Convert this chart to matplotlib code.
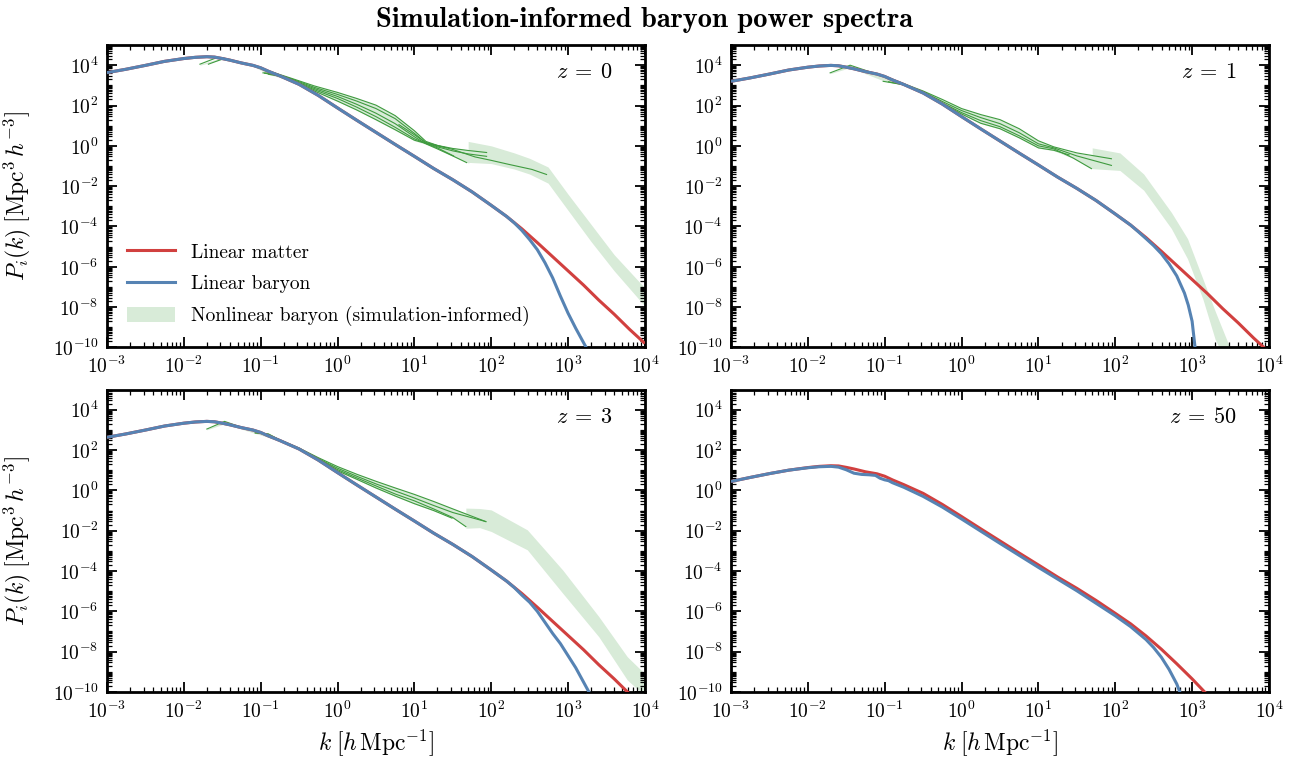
import numpy as np
import matplotlib
matplotlib.use("Agg")
import matplotlib.pyplot as plt
from matplotlib.patches import Patch
from matplotlib.lines import Line2D
from matplotlib.ticker import FixedLocator, LogLocator, NullFormatter, LogFormatterSciNotation

plt.rcParams.update({
    "font.family": "serif",
    "font.serif": ["cmr10"],
    "mathtext.fontset": "cm",
    "axes.formatter.use_mathtext": True,
})

# ---------------- data (log10 k, log10 P) ----------------
K_LIN = [-3.0, -2.75, -2.5, -2.25, -2.0, -1.85, -1.7, -1.6, -1.5, -1.4, -1.25, -1.1, -1.0, -0.9,
         -0.75, -0.5, -0.25, 0.0, 0.25, 0.5, 0.75, 1.0, 1.25, 1.5, 1.75, 2.0, 2.2, 2.4, 2.6, 2.8,
         3.0, 3.2, 3.4, 3.6, 3.8, 4.0]

PM_Z0 = [3.63, 3.80, 3.99, 4.19, 4.33, 4.39, 4.42, 4.40, 4.33, 4.25, 4.11, 3.99, 3.87, 3.70, 3.47,
         3.05, 2.50, 1.88, 1.27, 0.67, 0.07, -0.52, -1.12, -1.68, -2.28, -2.95, -3.50, -4.12, -4.80,
         -5.50, -6.20, -6.90, -7.65, -8.35, -9.10, -9.80]
PM_Z1 = [3.20, 3.37, 3.56, 3.76, 3.90, 3.96, 3.99, 3.97, 3.90, 3.82, 3.68, 3.56, 3.44, 3.27, 3.04,
         2.62, 2.07, 1.45, 0.84, 0.24, -0.36, -0.95, -1.55, -2.11, -2.71, -3.38, -3.93, -4.55, -5.23,
         -5.93, -6.63, -7.33, -8.08, -8.78, -9.53, -10.23]
PM_Z3 = [2.63, 2.80, 2.99, 3.19, 3.33, 3.39, 3.42, 3.40, 3.33, 3.25, 3.11, 2.99, 2.87, 2.70, 2.47,
         2.05, 1.50, 0.88, 0.27, -0.33, -0.93, -1.52, -2.12, -2.68, -3.28, -3.95, -4.50, -5.12, -5.80,
         -6.50, -7.20, -7.90, -8.65, -9.35, -10.10, -10.80]
K_M50 = [-3.0, -2.75, -2.5, -2.25, -2.0, -1.85, -1.7, -1.6, -1.5, -1.4, -1.25, -1.1, -1.0, -0.9,
         -0.75, -0.5, -0.25, 0.0, 0.25, 0.5, 0.75, 1.0, 1.25, 1.5, 1.75, 2.0, 2.2, 2.4, 2.6, 2.8,
         3.0, 3.2]
PM_Z50 = [0.44, 0.64, 0.83, 1.00, 1.13, 1.19, 1.22, 1.21, 1.14, 1.06, 0.92, 0.82, 0.70, 0.52, 0.28,
          -0.15, -0.70, -1.30, -1.91, -2.51, -3.11, -3.70, -4.30, -4.86, -5.46, -6.10, -6.62, -7.22,
          -7.88, -8.60, -9.35, -10.15]

K_B0 = [-3.0, -2.75, -2.5, -2.25, -2.0, -1.85, -1.7, -1.6, -1.5, -1.4, -1.25, -1.1, -1.0, -0.9,
        -0.75, -0.5, -0.25, 0.0, 0.25, 0.5, 0.75, 1.0, 1.25, 1.5, 1.75, 2.0, 2.2,
        2.3, 2.4, 2.5, 2.6, 2.7, 2.8, 2.9, 3.0, 3.1, 3.2, 3.3]
PB_Z0 = [3.63, 3.80, 3.99, 4.19, 4.33, 4.39, 4.42, 4.40, 4.33, 4.25, 4.11, 3.99, 3.87, 3.70, 3.47,
         3.05, 2.50, 1.88, 1.27, 0.67, 0.07, -0.52, -1.12, -1.68, -2.28, -2.95, -3.50,
         -3.82, -4.20, -4.65, -5.15, -5.80, -6.55, -7.45, -8.30, -9.05, -9.75, -10.45]
K_B1 = [-3.0, -2.75, -2.5, -2.25, -2.0, -1.85, -1.7, -1.6, -1.5, -1.4, -1.25, -1.1, -1.0, -0.9,
        -0.75, -0.5, -0.25, 0.0, 0.25, 0.5, 0.75, 1.0, 1.25, 1.5, 1.75, 2.0, 2.2,
        2.3, 2.4, 2.5, 2.6, 2.7, 2.8, 2.9, 2.95, 3.0, 3.05]
PB_Z1 = [3.20, 3.37, 3.56, 3.76, 3.90, 3.96, 3.99, 3.97, 3.90, 3.82, 3.68, 3.56, 3.44, 3.27, 3.04,
         2.62, 2.07, 1.45, 0.84, 0.24, -0.36, -0.95, -1.55, -2.11, -2.71, -3.38, -3.93,
         -4.26, -4.60, -4.95, -5.35, -5.85, -6.45, -7.30, -7.90, -8.70, -10.40]
K_B3 = [-3.0, -2.75, -2.5, -2.25, -2.0, -1.85, -1.7, -1.6, -1.5, -1.4, -1.25, -1.1, -1.0, -0.9,
        -0.75, -0.5, -0.25, 0.0, 0.25, 0.5, 0.75, 1.0, 1.25, 1.5, 1.75, 2.0, 2.2,
        2.3, 2.4, 2.5, 2.6, 2.7, 2.8, 2.9, 3.0, 3.1, 3.2, 3.3]
PB_Z3 = [2.63, 2.80, 2.99, 3.19, 3.33, 3.39, 3.42, 3.40, 3.33, 3.25, 3.11, 2.99, 2.87, 2.70, 2.47,
         2.05, 1.50, 0.88, 0.27, -0.33, -0.93, -1.52, -2.12, -2.68, -3.28, -3.95, -4.50,
         -4.82, -5.20, -5.55, -6.00, -6.55, -7.10, -7.60, -8.20, -8.80, -9.50, -10.20]
K_B50 = [-3.0, -2.75, -2.5, -2.25, -2.0, -1.85, -1.7, -1.6, -1.5, -1.4, -1.3, -1.2, -1.12, -1.06,
         -1.0, -0.95, -0.9, -0.75, -0.5, -0.25, 0.0, 0.5, 1.0, 1.5, 2.0, 2.2, 2.4, 2.5, 2.6, 2.7,
         2.8, 2.87]
PB_Z50 = [0.44, 0.64, 0.83, 1.00, 1.12, 1.17, 1.19, 1.15, 1.02, 0.85, 0.79, 0.77, 0.74, 0.60,
          0.52, 0.48, 0.38, 0.15, -0.30, -0.83, -1.42, -2.63, -3.82, -4.98, -6.22, -6.76, -7.40,
          -7.80, -8.28, -8.88, -9.60, -10.30]

# simulation curves (thin green), z = 0
G0_A_K = [-1.79, -1.6, -1.5, -1.25, -1.1, -0.9, -0.6, -0.3, 0.0, 0.25, 0.5, 0.75, 1.0, 1.15, 1.3, 1.5, 1.7, 1.94]
G0_A_P = [4.05, 4.33, 4.37, 4.13, 3.99, 3.72, 3.35, 2.97, 2.65, 2.35, 2.02, 1.50, 0.75, 0.22, 0.02, -0.13, -0.23, -0.33]
G0_B_K = [-1.68, -1.5, -1.4, -1.25, -1.1, -0.9, -0.6, -0.3, 0.0, 0.25, 0.5, 0.75, 1.0, 1.15, 1.3, 1.5, 1.7, 1.94]
G0_B_P = [4.05, 4.30, 4.27, 4.12, 3.99, 3.71, 3.32, 2.90, 2.55, 2.22, 1.85, 1.35, 0.62, 0.15, -0.05, -0.25, -0.40, -0.52]
G0_C_K = [-0.97, -0.85, -0.6, -0.3, 0.0, 0.25, 0.5, 0.75, 1.0, 1.15, 1.3, 1.5, 1.68]
G0_C_P = [3.62, 3.60, 3.28, 2.84, 2.45, 2.06, 1.62, 1.10, 0.45, 0.10, -0.15, -0.50, -0.83]
G0_D_K = [-0.95, -0.8, -0.6, -0.3, 0.0, 0.25, 0.5, 0.75, 1.0, 1.15, 1.3, 1.51]
G0_D_P = [3.60, 3.52, 3.25, 2.78, 2.35, 1.92, 1.45, 0.92, 0.35, 0.12, -0.10, -0.50]
G0_E_K = [-0.9, -0.75, -0.6, -0.3, 0.0, 0.25, 0.5, 0.75, 1.0, 1.15, 1.3, 1.42]
G0_E_P = [3.55, 3.45, 3.23, 2.72, 2.22, 1.78, 1.30, 0.80, 0.28, 0.12, 0.00, -0.10]
G0_F_K = [0.8, 1.0, 1.14, 1.3, 1.5, 1.79, 2.0, 2.23, 2.53, 2.72]
G0_F_P = [1.05, 0.55, 0.18, 0.02, -0.18, -0.55, -0.72, -0.92, -1.17, -1.42]

# z = 1
G1_A_K = [-1.71, -1.45, -1.2, -1.0, -0.75, -0.5, -0.25, 0.0, 0.25, 0.5, 0.75, 1.0, 1.2, 1.5, 1.95]
G1_A_P = [3.62, 4.00, 3.68, 3.46, 3.08, 2.72, 2.30, 1.85, 1.55, 1.30, 0.85, 0.25, -0.05, -0.35, -0.64]
G1_B_K = [-1.02, -0.75, -0.5, -0.25, 0.0, 0.25, 0.5, 0.75, 1.0, 1.2, 1.5, 1.95]
G1_B_P = [3.20, 3.03, 2.68, 2.20, 1.75, 1.40, 1.10, 0.65, 0.10, -0.10, -0.50, -0.97]
G1_C_K = [-0.95, -0.75, -0.5, -0.25, 0.0, 0.25, 0.5, 0.75, 1.0, 1.2, 1.45, 1.69]
G1_C_P = [3.18, 3.02, 2.65, 2.13, 1.65, 1.25, 0.95, 0.50, 0.00, -0.15, -0.60, -1.13]
G1_D_K = [-0.5, -0.25, 0.0, 0.25, 0.5, 0.75, 1.0, 1.2, 1.4]
G1_D_P = [2.63, 2.10, 1.58, 1.12, 0.85, 0.40, -0.10, -0.22, -0.45]

# z = 3
G3_A_K = [-1.70, -1.47, -1.25, -1.0, -0.75, -0.5, -0.25, 0.0, 0.25, 0.5, 0.75, 1.0, 1.25, 1.5, 1.93]
G3_A_P = [3.04, 3.42, 3.13, 2.88, 2.50, 2.10, 1.62, 1.18, 0.80, 0.45, 0.12, -0.20, -0.55, -0.92, -1.55]
G3_B_K = [-1.07, -0.9, -0.75, -0.5, -0.25, 0.0, 0.25, 0.5, 0.75, 1.0, 1.25, 1.5, 1.93]
G3_B_P = [2.86, 2.80, 2.50, 2.08, 1.57, 1.10, 0.70, 0.32, -0.03, -0.38, -0.75, -1.10, -1.55]
G3_C_K = [-1.07, -0.9, -0.75, -0.5, -0.25, 0.0, 0.25, 0.5, 0.75, 1.0, 1.25, 1.5, 1.67]
G3_C_P = [2.84, 2.78, 2.49, 2.06, 1.54, 1.03, 0.62, 0.22, -0.18, -0.52, -0.92, -1.35, -1.80]
G3_D_K = [-0.5, -0.25, 0.0, 0.25, 0.5, 0.75, 1.0, 1.25, 1.49]
G3_D_P = [2.05, 1.52, 0.97, 0.55, 0.12, -0.28, -0.66, -1.00, -1.38]

# nonlinear bands: simulation range (A) and extension (B)
BA0_K = [-1.79, -1.5, -1.1, -0.9, -0.6, -0.3, 0.0, 0.25, 0.5, 0.75, 1.0, 1.15, 1.3, 1.5, 1.7, 1.94]
BA0_HI = [4.05, 4.38, 4.00, 3.73, 3.36, 2.98, 2.67, 2.37, 2.04, 1.52, 0.77, 0.24, 0.04, -0.10, -0.20, -0.30]
BA0_LO = [4.00, 4.28, 3.95, 3.55, 3.22, 2.70, 2.20, 1.76, 1.27, 0.77, 0.25, 0.08, -0.17, -0.52, -0.85, -0.55]
BB0_K = [1.70, 2.0, 2.3, 2.5, 2.74, 3.0, 3.3, 3.6, 4.0]
BB0_HI = [0.22, 0.00, -0.35, -0.62, -1.05, -2.40, -3.90, -5.40, -7.05]
BB0_LO = [-0.82, -0.88, -1.15, -1.40, -1.85, -3.20, -4.75, -6.20, -7.95]

BA1_K = [-1.71, -1.45, -1.0, -0.75, -0.5, -0.25, 0.0, 0.25, 0.5, 0.75, 1.0, 1.2, 1.45, 1.69, 1.95]
BA1_HI = [3.62, 4.00, 3.47, 3.11, 2.73, 2.31, 1.86, 1.56, 1.31, 0.86, 0.26, -0.04, -0.32, -0.48, -0.63]
BA1_LO = [3.58, 3.88, 3.20, 3.00, 2.62, 2.08, 1.56, 1.10, 0.83, 0.38, -0.12, -0.24, -0.62, -1.13, -0.97]
BB1_K = [1.70, 2.06, 2.37, 2.73, 2.94, 3.14, 3.30, 3.48, 3.56]
BB1_HI = [-0.10, -0.35, -1.40, -3.30, -4.60, -6.60, -8.20, -9.90, -10.60]
BB1_LO = [-1.13, -1.22, -2.20, -4.10, -5.60, -7.60, -9.60, -11.00, -11.00]

BA3_K = [-1.70, -1.47, -1.07, -0.75, -0.5, -0.25, 0.0, 0.25, 0.5, 0.75, 1.0, 1.25, 1.5, 1.67, 1.93]
BA3_HI = [3.04, 3.43, 2.90, 2.52, 2.12, 1.64, 1.20, 0.82, 0.47, 0.14, -0.18, -0.53, -0.90, -1.15, -1.53]
BA3_LO = [3.00, 3.30, 2.82, 2.46, 2.02, 1.50, 0.95, 0.53, 0.10, -0.30, -0.68, -1.02, -1.37, -1.80, -1.57]
BB3_K = [1.67, 1.85, 2.0, 2.47, 2.93, 3.4, 3.77, 4.0]
BB3_HI = [-0.88, -0.90, -0.97, -1.96, -3.95, -6.26, -8.25, -9.10]
BB3_LO = [-1.88, -1.85, -2.04, -2.95, -5.10, -7.26, -9.40, -10.20]

REDSHIFTS = ["0", "1", "3", "50"]
X_TICKS = [-3, -2, -1, 0, 1, 2, 3, 4]
Y_TICKS = [-10, -8, -6, -4, -2, 0, 2, 4]

C_RED = "#d1403f"
C_BLUE = "#5683b3"
C_GREEN = "#3f9b3f"
C_BAND = "#d8ebd8"

panels = [
    dict(km=K_LIN, pm=PM_Z0, kb=K_B0, pb=PB_Z0,
         sims=[(G0_A_K, G0_A_P), (G0_B_K, G0_B_P), (G0_C_K, G0_C_P), (G0_D_K, G0_D_P),
               (G0_E_K, G0_E_P), (G0_F_K, G0_F_P)],
         bands=[(BA0_K, BA0_LO, BA0_HI), (BB0_K, BB0_LO, BB0_HI)]),
    dict(km=K_LIN, pm=PM_Z1, kb=K_B1, pb=PB_Z1,
         sims=[(G1_A_K, G1_A_P), (G1_B_K, G1_B_P), (G1_C_K, G1_C_P), (G1_D_K, G1_D_P)],
         bands=[(BA1_K, BA1_LO, BA1_HI), (BB1_K, BB1_LO, BB1_HI)]),
    dict(km=K_LIN, pm=PM_Z3, kb=K_B3, pb=PB_Z3,
         sims=[(G3_A_K, G3_A_P), (G3_B_K, G3_B_P), (G3_C_K, G3_C_P), (G3_D_K, G3_D_P)],
         bands=[(BA3_K, BA3_LO, BA3_HI), (BB3_K, BB3_LO, BB3_HI)]),
    dict(km=K_M50, pm=PM_Z50, kb=K_B50, pb=PB_Z50, sims=[], bands=[]),
]

def p10(a):
    return 10.0 ** np.asarray(a, dtype=float)

fig = plt.figure(figsize=(12.9, 7.58), dpi=100)
fig.subplots_adjust(left=0.0829, right=0.9837, top=0.9406, bottom=0.0871,
                    wspace=0.16, hspace=0.139)
axes = fig.subplots(2, 2)

for ax, z, pan in zip(axes.flat, REDSHIFTS, panels):
    for bk, blo, bhi in pan["bands"]:
        ax.fill_between(p10(bk), p10(blo), p10(bhi), color=C_BAND, lw=0, zorder=1)
    for sk, sp in pan["sims"]:
        ax.plot(p10(sk), p10(sp), color=C_GREEN, lw=0.8, zorder=2)
    ax.plot(p10(pan["km"]), p10(pan["pm"]), color=C_RED, lw=2.2, zorder=3,
            solid_capstyle="butt")
    ax.plot(p10(pan["kb"]), p10(pan["pb"]), color=C_BLUE, lw=2.2, zorder=4,
            solid_capstyle="butt")

    ax.set_xscale("log")
    ax.set_yscale("log")
    ax.set_xlim(1e-3, 1e4)
    ax.set_ylim(1e-10, 1e5)
    ax.xaxis.set_major_locator(FixedLocator(p10(X_TICKS)))
    ax.yaxis.set_major_locator(FixedLocator(p10(Y_TICKS)))
    ax.xaxis.set_major_formatter(LogFormatterSciNotation())
    ax.yaxis.set_major_formatter(LogFormatterSciNotation())
    ax.xaxis.set_minor_locator(LogLocator(base=10, subs=np.arange(2, 10), numticks=100))
    ax.yaxis.set_minor_locator(LogLocator(base=10, subs=np.arange(1, 10), numticks=100))
    ax.xaxis.set_minor_formatter(NullFormatter())
    ax.yaxis.set_minor_formatter(NullFormatter())
    ax.tick_params(which="both", direction="in", top=True, right=True, labelsize=14)
    ax.tick_params(which="major", length=7, width=1.3, pad=6)
    ax.tick_params(which="minor", length=3.5, width=0.9)
    for sp in ax.spines.values():
        sp.set_linewidth(2.0)
    ax.text(0.94, 0.91, r"$z\:=\:%s$" % z, transform=ax.transAxes, ha="right", va="center",
            fontsize=16)

for ax in axes[:, 0]:
    ax.set_ylabel(r"$P_i(k)\;[\mathrm{Mpc}^3\,h^{-3}]$", fontsize=17)
    ax.yaxis.set_label_coords(-0.137, 0.5)
for ax in axes[1, :]:
    ax.set_xlabel(r"$k\;[h\,\mathrm{Mpc}^{-1}]$", fontsize=17)
    ax.xaxis.set_label_coords(0.5, -0.115)

handles = [Line2D([], [], color=C_RED, lw=2.2),
           Line2D([], [], color=C_BLUE, lw=2.2),
           Patch(facecolor=C_BAND, edgecolor="none")]
labels = ["Linear matter", "Linear baryon", "Nonlinear baryon (simulation-informed)"]
axes[0, 0].legend(handles, labels, loc="lower left", bbox_to_anchor=(0.004, 0.012),
                  frameon=False, fontsize=14, handlelength=2.5, handleheight=0.8,
                  labelspacing=0.68, handletextpad=0.8)

fig.suptitle("Simulation-informed baryon power spectra", fontfamily="cmb10",
             fontsize=20.5, y=0.974, va="center")

fig.savefig("out.png", dpi=100)
